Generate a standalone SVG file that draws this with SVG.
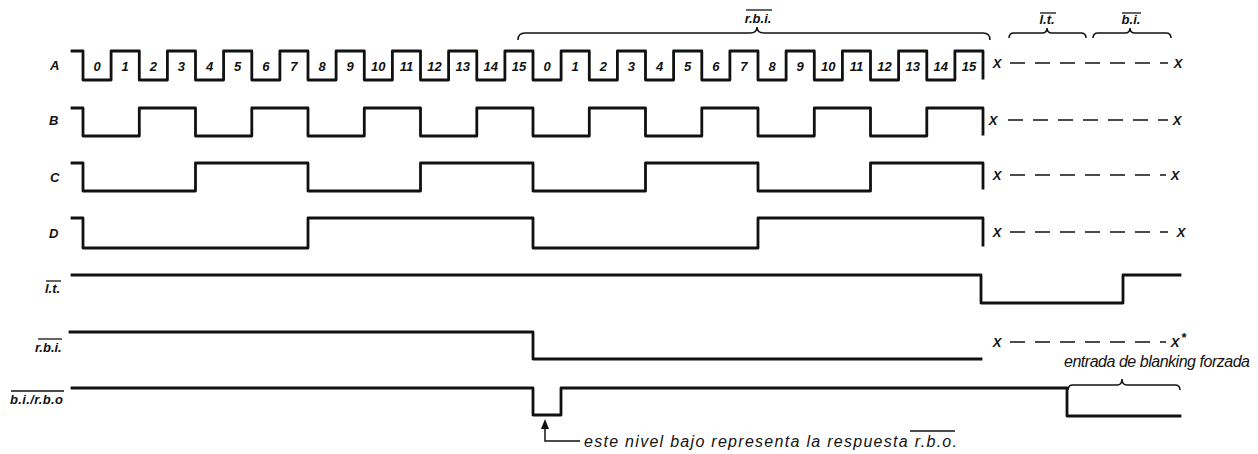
<svg xmlns="http://www.w3.org/2000/svg" width="1258" height="454" viewBox="0 0 1258 454">
<style>
.wave{fill:none;stroke:#111;stroke-width:2.8;stroke-linejoin:round;stroke-linecap:square}
.dash{stroke:#111;stroke-width:1.6;stroke-dasharray:15 10}
.brace{fill:none;stroke:#111;stroke-width:1.5}
.ov{stroke:#111;stroke-width:1.3}
.lbl{font-family:"Liberation Sans",Arial,sans-serif;font-style:italic;font-weight:bold;font-size:13px;fill:#111}
.num{font-family:"Liberation Sans",Arial,sans-serif;font-style:italic;font-weight:bold;font-size:13px;fill:#111;text-anchor:middle}
.x{font-family:"Liberation Sans",Arial,sans-serif;font-style:italic;font-weight:bold;font-size:13px;fill:#111;text-anchor:middle}
.note{font-family:"Liberation Sans",Arial,sans-serif;font-style:italic;font-size:16px;fill:#111}
</style>
<rect width="1258" height="454" fill="#fff"/>

<g id="sigA">
<text class="lbl" x="50" y="70">A</text>
<path class="wave" d="M72,51 H83 V80 H111.1 V51 H139.3 V80 H167.4 V51 H195.5 V80 H223.6 V51 H251.8 V80 H279.9 V51 H308 V80 H336.1 V51 H364.3 V80 H392.4 V51 H420.5 V80 H448.6 V51 H476.8 V80 H504.9 V51 H533 V80 H561.1 V51 H589.3 V80 H617.4 V51 H645.5 V80 H673.6 V51 H701.8 V80 H729.9 V51 H758 V80 H786.1 V51 H814.3 V80 H842.4 V51 H870.5 V80 H898.6 V51 H926.8 V80 H954.9 V51 H983 V78"/>
<g class="num">
<text x="97.1" y="71">0</text><text x="125.2" y="71">1</text><text x="153.3" y="71">2</text><text x="181.4" y="71">3</text>
<text x="209.6" y="71">4</text><text x="237.7" y="71">5</text><text x="265.8" y="71">6</text><text x="293.9" y="71">7</text>
<text x="322.1" y="71">8</text><text x="350.2" y="71">9</text><text x="378.3" y="71">10</text><text x="406.4" y="71">11</text>
<text x="434.6" y="71">12</text><text x="462.7" y="71">13</text><text x="490.8" y="71">14</text><text x="518.9" y="71">15</text>
<text x="547.1" y="71">0</text><text x="575.2" y="71">1</text><text x="603.3" y="71">2</text><text x="631.4" y="71">3</text>
<text x="659.6" y="71">4</text><text x="687.7" y="71">5</text><text x="715.8" y="71">6</text><text x="743.9" y="71">7</text>
<text x="772.1" y="71">8</text><text x="800.2" y="71">9</text><text x="828.3" y="71">10</text><text x="856.4" y="71">11</text>
<text x="884.6" y="71">12</text><text x="912.7" y="71">13</text><text x="940.8" y="71">14</text><text x="968.9" y="71">15</text>
</g>
<text class="x" x="997" y="68">X</text>
<line class="dash" x1="1010" y1="63" x2="1168" y2="63"/>
<text class="x" x="1178" y="68">X</text>
</g>

<g id="sigB">
<text class="lbl" x="49" y="125">B</text>
<path class="wave" d="M72,108 H83 V136 H139.3 V108 H195.5 V136 H251.8 V108 H308 V136 H364.3 V108 H420.5 V136 H476.8 V108 H533 V136 H589.3 V108 H645.5 V136 H701.8 V108 H758 V136 H814.3 V108 H870.5 V136 H926.8 V108 H983 V134"/>
<text class="x" x="993" y="125">X</text>
<line class="dash" x1="1008" y1="120" x2="1168" y2="120"/>
<text class="x" x="1177" y="125">X</text>
</g>

<g id="sigC">
<text class="lbl" x="50" y="182">C</text>
<path class="wave" d="M72,163 H83 V191 H195.5 V163 H308 V191 H420.5 V163 H533 V191 H645.5 V163 H758 V191 H870.5 V163 H983 V188"/>
<text class="x" x="997" y="180">X</text>
<line class="dash" x1="1010" y1="175" x2="1166" y2="175"/>
<text class="x" x="1175" y="180">X</text>
</g>

<g id="sigD">
<text class="lbl" x="49" y="238">D</text>
<path class="wave" d="M72,218 H83 V248 H308 V218 H533 V248 H758 V218 H983 V245"/>
<text class="x" x="997" y="237">X</text>
<line class="dash" x1="1010" y1="232" x2="1168" y2="232"/>
<text class="x" x="1181" y="237">X</text>
</g>

<g id="sigLT">
<text class="lbl" x="45" y="293">l.t.</text>
<line class="ov" x1="46" y1="281" x2="61" y2="281"/>
<path class="wave" d="M72,275 H981 V303 H1123 V275 H1180"/>
</g>

<g id="sigRBI">
<text class="lbl" x="35" y="352">r.b.i.</text>
<line class="ov" x1="38" y1="339" x2="62" y2="339"/>
<path class="wave" d="M70,332 H533 V359 H981"/>
<text class="x" x="997" y="347">X</text>
<line class="dash" x1="1010" y1="342" x2="1166" y2="342"/>
<text class="x" x="1175" y="347">X</text>
<text class="lbl" x="1181" y="342" font-size="11">*</text>
</g>

<g id="sigBIRBO">
<text class="lbl" x="10" y="404" textLength="53" lengthAdjust="spacing">b.i./r.b.o</text>
<line class="ov" x1="11" y1="391" x2="64" y2="391"/>
<path class="wave" d="M72,388 H533 V415 H561 V388 H1067 V416 H1180"/>
</g>

<g id="braces">
<path class="brace" d="M518,40 Q518,33 525,33 H750 Q757,33 757,27 Q757,33 764,33 H983 Q990,33 990,40"/>
<text class="lbl" x="758" y="23" text-anchor="middle">r.b.i.</text>
<line class="ov" x1="746" y1="10" x2="772" y2="10"/>
<path class="brace" d="M1009,38 Q1009,33 1014,33 H1042 Q1047,33 1047,28 Q1047,33 1052,33 H1081 Q1086,33 1086,38"/>
<text class="lbl" x="1047" y="24" text-anchor="middle">l.t.</text>
<line class="ov" x1="1040" y1="13" x2="1056" y2="13"/>
<path class="brace" d="M1093,38 Q1093,33 1098,33 H1125 Q1130,33 1130,28 Q1130,33 1135,33 H1166 Q1171,33 1171,38"/>
<text class="lbl" x="1131" y="24" text-anchor="middle">b.i.</text>
<line class="ov" x1="1122" y1="13" x2="1141" y2="13"/>
<path class="brace" d="M1068,390 Q1068,385 1073,385 H1117 Q1122,385 1122,379 Q1122,385 1127,385 H1175 Q1180,385 1180,390"/>
<text class="note" x="1064" y="367" font-size="15" textLength="186" lengthAdjust="spacing">entrada de blanking forzada</text>
</g>

<g id="connectors">
<polygon points="545,419 541,429 549,429" fill="#111"/>
<path fill="none" stroke="#111" stroke-width="1.5" d="M545,429 V441 H580"/>
</g>

<g id="note">
<text class="note" x="584" y="447" font-size="17" textLength="373" lengthAdjust="spacing">este nivel bajo representa la respuesta r.b.o.</text>
<line class="ov" x1="910" y1="431" x2="955" y2="431"/>
</g>
</svg>
